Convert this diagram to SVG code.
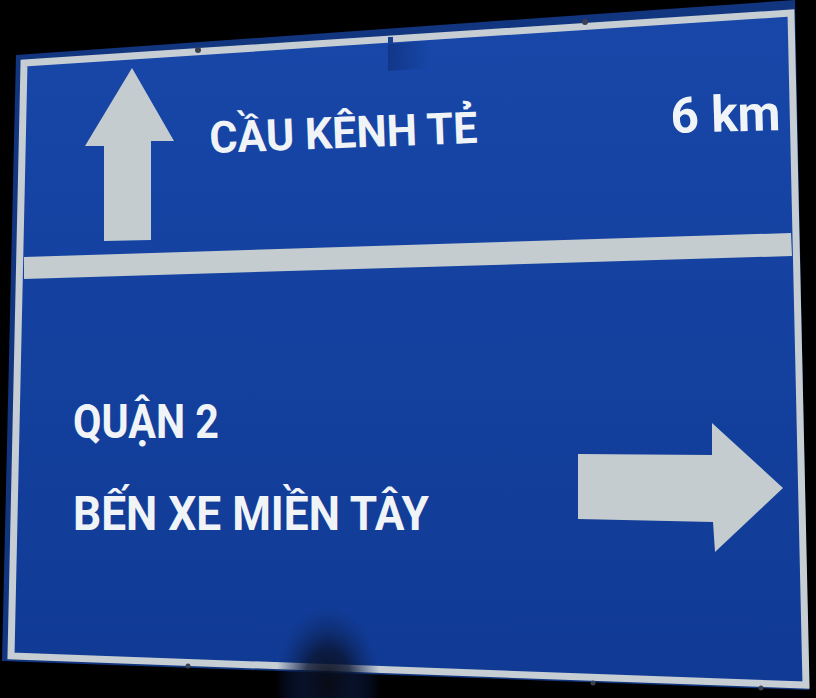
<svg xmlns="http://www.w3.org/2000/svg" width="816" height="698" viewBox="0 0 816 698">
<defs>
<linearGradient id="blue" x1="0" y1="0" x2="0" y2="1">
<stop offset="0" stop-color="#1847a9"/>
<stop offset="1" stop-color="#103a94"/>
</linearGradient>
<radialGradient id="smudge" gradientUnits="userSpaceOnUse" cx="328" cy="684" r="70" gradientTransform="translate(328 684) scale(0.75 1.1) translate(-328 -684)">
<stop offset="0" stop-color="#080c16" stop-opacity="0.95"/>
<stop offset="0.45" stop-color="#0a1532" stop-opacity="0.8"/>
<stop offset="0.8" stop-color="#0d2256" stop-opacity="0.3"/>
<stop offset="1" stop-color="#0f2a6a" stop-opacity="0"/>
</radialGradient>
<linearGradient id="shadowFade" gradientUnits="userSpaceOnUse" x1="388" y1="0" x2="430" y2="0">
<stop offset="0" stop-color="#0c2a70" stop-opacity="0.55"/>
<stop offset="1" stop-color="#0c2a70" stop-opacity="0"/>
</linearGradient>
<style>
.band{fill:none;stroke:#c6ced4;stroke-width:7;stroke-linejoin:miter}
.light{fill:#c4cccf}
.txt{font-family:Roboto,"DejaVu Sans",sans-serif;font-weight:700;fill:#f1f4f6}
.bolt{fill:#3a4150}
</style>
</defs>
<rect width="816" height="698" fill="#000"/>
<g id="sign">
<polygon points="16,55 795,0 809,690 2,661" fill="#12357f"/>
<polygon points="24,63 791,13 806,685 11,656" fill="url(#blue)"/>
<polygon class="band" points="24,63 791,13 806,685 11,656"/>
<polygon points="388,37 393,37 393,43 388,43" fill="#1a3f8f"/>
<polygon points="388,44 430,41 430,68 388,71" fill="url(#shadowFade)"/>
<rect x="260" y="600" width="140" height="98" fill="url(#smudge)"/>
<polygon id="divider" class="light" points="24,257 791,233 792,256 24,279"/>
<circle class="bolt" cx="198" cy="50" r="3"/>
<circle class="bolt" cx="585" cy="22" r="3"/>
<circle class="bolt" cx="188" cy="666" r="2.5"/>
<circle class="bolt" cx="593" cy="683" r="2.5"/>
<circle class="bolt" cx="761" cy="688" r="2.5"/>
</g>
<g id="up-arrow">
<polygon class="light" points="132,68 174,141 151,141 151,240 104,241 104,146 85,146"/>
</g>
<g id="right-arrow">
<polygon class="light" points="578,454 712,455 712,423 783,488 715,552 713,522 578,519"/>
</g>
<g id="top-texts">
<text class="txt" x="210" y="153" font-size="44" textLength="268" lengthAdjust="spacingAndGlyphs" transform="rotate(-2.2 210 153)">CẦU KÊNH TẺ</text>
<text class="txt" x="671" y="133" font-size="50" textLength="110" lengthAdjust="spacingAndGlyphs" transform="rotate(-1.6 671 133)">6 km</text>
</g>
<g id="bottom-texts">
<text class="txt" x="73" y="438" font-size="49" textLength="146" lengthAdjust="spacingAndGlyphs">QUẬN 2</text>
<text class="txt" x="73" y="530" font-size="49" textLength="356" lengthAdjust="spacingAndGlyphs">BẾN XE MIỀN TÂY</text>
</g>
</svg>
